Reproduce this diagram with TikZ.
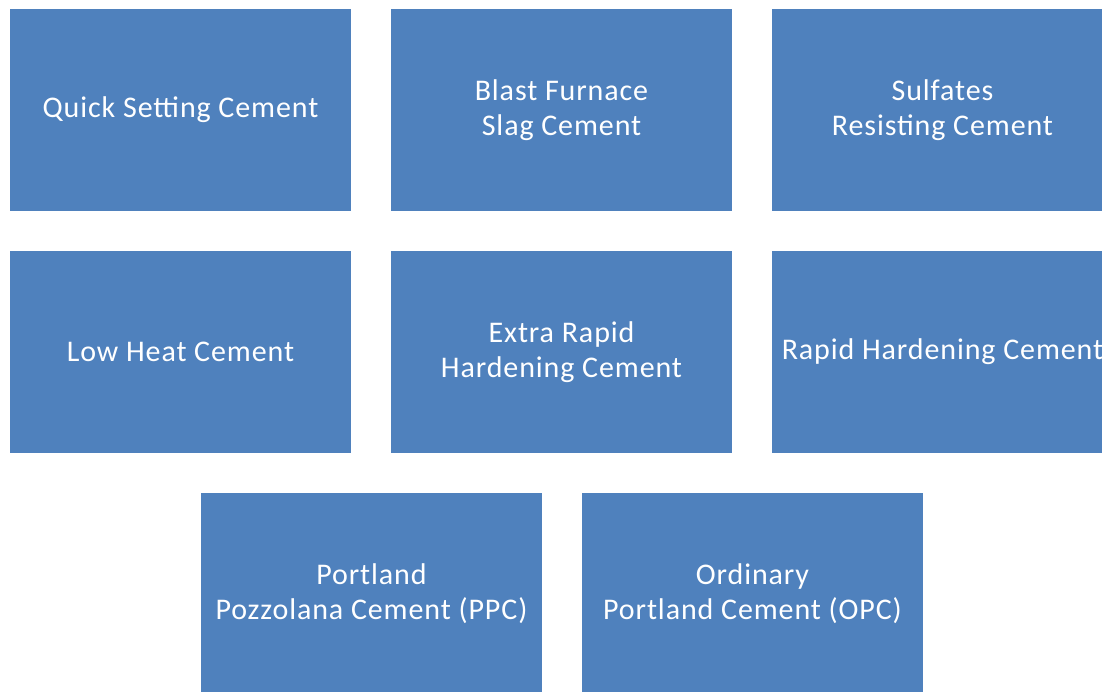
\documentclass[tikz,border=0pt]{standalone}
\usepackage{fontspec}
\setmainfont{Carlito}[LetterSpace=3]
\usepackage{tikz}
\usetikzlibrary{positioning}
\definecolor{cemblue}{HTML}{4F81BD}
\tikzset{
  cbox/.style={fill=cemblue, draw=none, align=center, text=white,
               minimum width=341pt, minimum height=202pt, inner sep=0pt,
               font=\fontsize{30}{35}\selectfont},
}
\begin{document}
\begin{tikzpicture}[x=1pt, y=-1pt]
    \clip (0,0) rectangle (1102,692);
    \fill[white] (0,0) rectangle (1102,692);
    % top row
    \node[cbox] (quick) at (180.5,110) {Quick Setting Cement};
    \node[cbox] (blast) at (561.5,110) {Blast Furnace\\Slag Cement};
    \node[cbox] (sulfate) at (942.5,110) {Sulfates\\Resisting Cement};
    % middle row
    \node[cbox] (lowheat) at (180.5,352) {Low Heat Cement};
    \node[cbox] (extrarapid) at (561.5,352) {Extra Rapid\\Hardening Cement};
    \node[cbox] (rapid) at (942.5,352) {Rapid Hardening Cement};
    % bottom row
    \node[cbox] (ppc) at (371.5,594) {Portland\\Pozzolana Cement (PPC)};
    \node[cbox] (opc) at (752.5,594) {Ordinary\\Portland Cement (OPC)};
\end{tikzpicture}
\end{document}
